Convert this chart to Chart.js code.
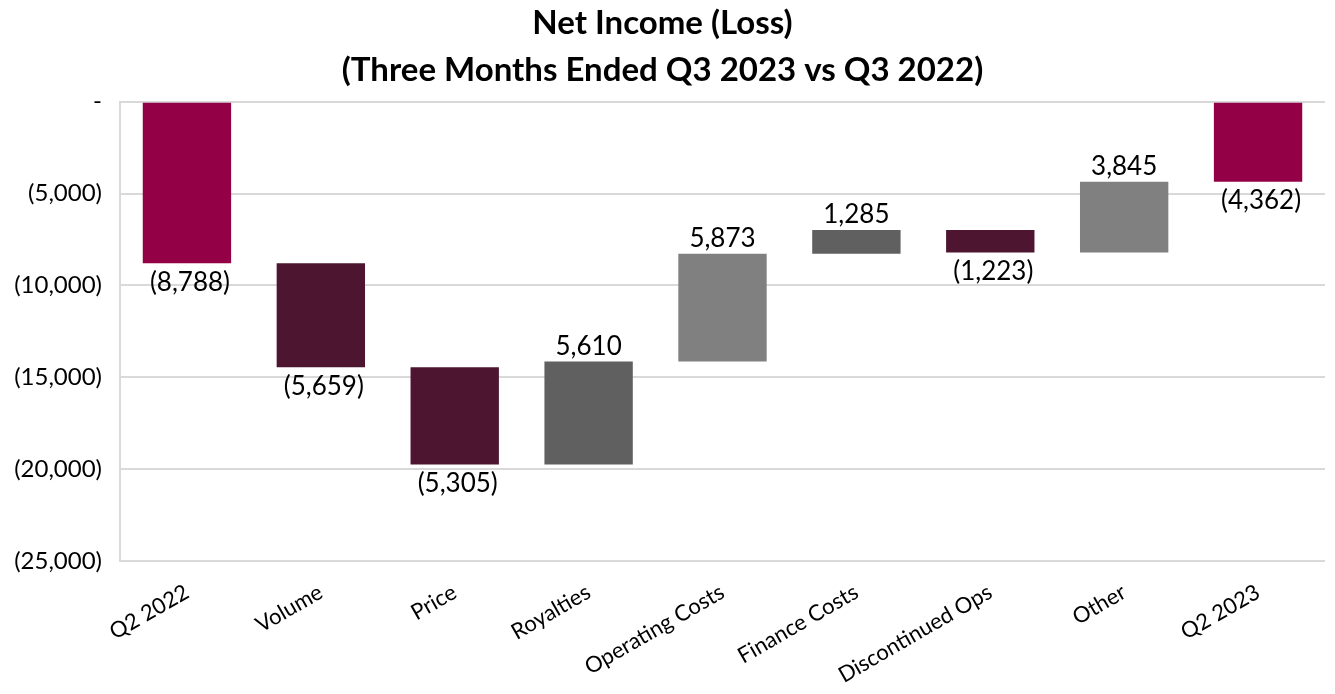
<!DOCTYPE html>
<html>
<head>
<meta charset="utf-8">
<script src="https://cdn.jsdelivr.net/npm/chart.js@4/dist/chart.umd.min.js"></script>
<style>
    html, body { margin: 0; padding: 0; background: #fff; }
    #wrap { width: 1335px; height: 694px; }
</style>
</head>
<body>
<div id="wrap"><canvas id="waterfallChart"></canvas></div>
<script>
// Waterfall data (thousands)
const categories = ['Q2 2022', 'Volume', 'Price', 'Royalties', 'Operating Costs', 'Finance Costs', 'Discontinued Ops', 'Other', 'Q2 2023'];
const changes = [-8788, -5659, -5305, 5610, 5873, 1285, -1223, 3845, -4362];
const isTotal = [true, false, false, false, false, false, false, false, true];
const yTicks = [0, -5000, -10000, -15000, -20000, -25000];

const barColors = ['#930045', '#4d1530', '#4d1530', '#606060', '#808080', '#606060', '#4d1530', '#808080', '#930045'];
const FONT = 'Lato, Calibri, Carlito, sans-serif';

// Build floating ranges from the running total
const ranges = [];
let running = 0;
changes.forEach((c, i) => {
    if (isTotal[i]) {
        ranges.push([0, c]);
        running = c;
    } else {
        ranges.push([running, running + c]);
        running += c;
    }
});

function fmt(v) {
    if (v === 0) return '-';
    const s = Math.abs(v).toLocaleString('en-US');
    return v < 0 ? '(' + s + ')' : s;
}

// Simple value labels: above for increases, below for decreases
const valueLabels = {
    id: 'valueLabels',
    afterDatasetsDraw(chart) {
        const ctx = chart.ctx;
        const meta = chart.getDatasetMeta(0);
        ctx.save();
        ctx.font = '26px ' + FONT;
        ctx.fillStyle = '#000';
        ctx.textAlign = 'center';
        meta.data.forEach((bar, i) => {
            const v = changes[i];
            const top = Math.min(bar.y, bar.base);
            const bottom = Math.max(bar.y, bar.base);
            if (v < 0) {
                ctx.textBaseline = 'top';
                ctx.fillText(fmt(v), bar.x + 3, bottom + 6);
            } else {
                ctx.textBaseline = 'bottom';
                ctx.fillText(fmt(v), bar.x, top - 2);
            }
        });
        ctx.restore();
    }
};

new Chart(document.getElementById('waterfallChart').getContext('2d'), {
    type: 'bar',
    data: {
        labels: categories,
        datasets: [{
            data: ranges,
            backgroundColor: barColors,
            borderWidth: 0,
            categoryPercentage: 1,
            barPercentage: 0.66
        }]
    },
    options: {
        responsive: true,
        maintainAspectRatio: false,
        animation: false,
        layout: { padding: { left: 0, right: 10, top: 0, bottom: 0 } },
        plugins: {
            legend: { display: false },
            tooltip: { enabled: false },
            title: {
                display: true,
                text: ['Net Income (Loss)', '(Three Months Ended Q3 2023 vs Q3 2022)'],
                color: '#000',
                font: { family: FONT, size: 33, weight: 'bold', lineHeight: 1.42 },
                padding: { top: 0, bottom: 8 }
            }
        },
        scales: {
            y: {
                min: -25000,
                max: 0,
                afterBuildTicks: (scale) => {
                    scale.ticks = yTicks.map(v => ({ value: v }));
                },
                afterFit: (scale) => { scale.width = 120; },
                grid: { color: '#d9d9d9', lineWidth: 2, drawTicks: false },
                border: { display: true, color: '#d9d9d9', width: 2 },
                ticks: {
                    color: '#000',
                    padding: 18,
                    font: { family: FONT, size: 24 },
                    callback: (v) => fmt(v)
                }
            },
            x: {
                afterFit: (scale) => { scale.height = 133; },
                grid: { display: false },
                border: { display: false },
                ticks: {
                    color: '#000',
                    maxRotation: 30,
                    minRotation: 30,
                    padding: 10,
                    font: { family: FONT, size: 22 }
                }
            }
        }
    },
    plugins: [valueLabels]
});
</script>
</body>
</html>
